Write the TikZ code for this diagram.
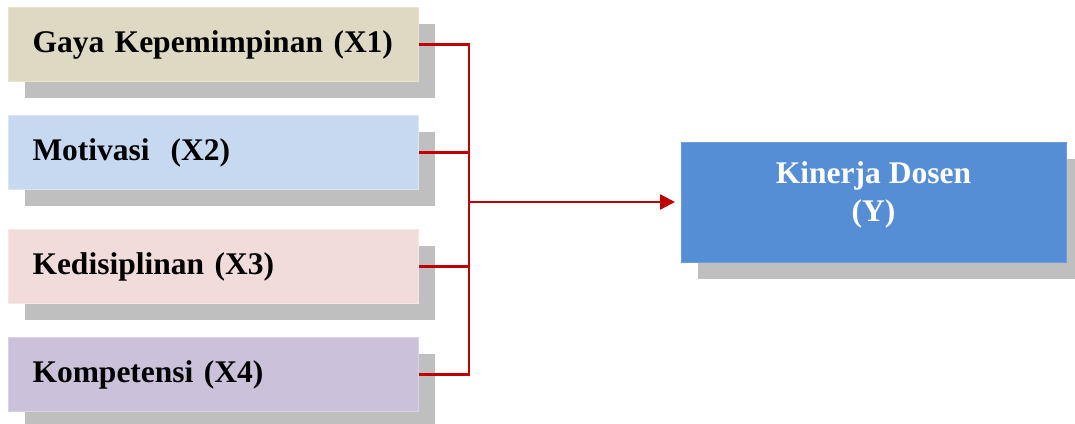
\documentclass[tikz,border=0pt]{standalone}
\usepackage{fontspec}
\setmainfont{Liberation Serif}
\usetikzlibrary{shadows,arrows.meta}
\definecolor{shadowgray}{HTML}{BFBFBF}
\definecolor{tanbox}{HTML}{DDD9C3}
\definecolor{tanedge}{HTML}{E6E3D3}
\definecolor{bluebox}{HTML}{C6D9F1}
\definecolor{blueedge}{HTML}{DCE6F2}
\definecolor{pinkbox}{HTML}{F2DCDB}
\definecolor{pinkedge}{HTML}{F6E6E5}
\definecolor{lilacbox}{HTML}{CCC1DA}
\definecolor{lilacedge}{HTML}{D9D1E4}
\definecolor{ybox}{HTML}{558ED5}
\definecolor{yedge}{HTML}{6E9EDA}
\definecolor{linkred}{HTML}{C00000}
\begin{document}
\begin{tikzpicture}[x=1pt,y=-1pt,
  varbox/.style={anchor=north west, minimum width=410pt, minimum height=74pt,
    text width=362pt, inner xsep=24pt, inner ysep=0pt, align=left,
    font=\bfseries\fontsize{31.5}{36}\selectfont, line width=1pt,
    drop shadow={shadow xshift=16pt, shadow yshift=-16pt, fill=shadowgray, opacity=1}},
  depbox/.style={anchor=north west, minimum width=385pt, minimum height=120pt,
    inner sep=0pt, fill=ybox, draw=yedge, line width=1pt,
    drop shadow={shadow xshift=16pt, shadow yshift=-16pt, fill=shadowgray, opacity=1}},
  deptext/.style={align=center, text=white, inner sep=0pt,
    font=\bfseries\fontsize{31.5}{38}\selectfont},
  link/.style={draw=linkred, line width=2.3pt}
]
\useasboundingbox (0,0) rectangle (1075,423);
\clip (0,0) rectangle (1075,423);
\node[varbox, fill=tanbox, draw=tanedge] (b1) at (8,7) {Gaya Kepemimpinan (X1)};
\node[varbox, fill=bluebox, draw=blueedge] (b2) at (8,115) {Motivasi\ \ (X2)};
\node[varbox, fill=pinkbox, draw=pinkedge] (b3) at (8,229) {Kedisiplinan (X3)};
\node[varbox, fill=lilacbox, draw=lilacedge] (b4) at (8,337) {Kompetensi (X4)};
\node[depbox] (y) at (681,142) {};
\node[deptext] (ylab) at (873.5,195) {Kinerja Dosen\\(Y)};
\coordinate (j) at (469,202);
\draw[link] (b1.east) -| (j);
\draw[link] (b4.east) -| (j);
\draw[link] (b2.east) -- (b2.east -| j);
\draw[link] (b3.east) -- (b3.east -| j);
\draw[link, -{Triangle[length=15pt,width=15pt]}, shorten >=6pt] (j) -- (y.west |- j);
\end{tikzpicture}
\end{document}
